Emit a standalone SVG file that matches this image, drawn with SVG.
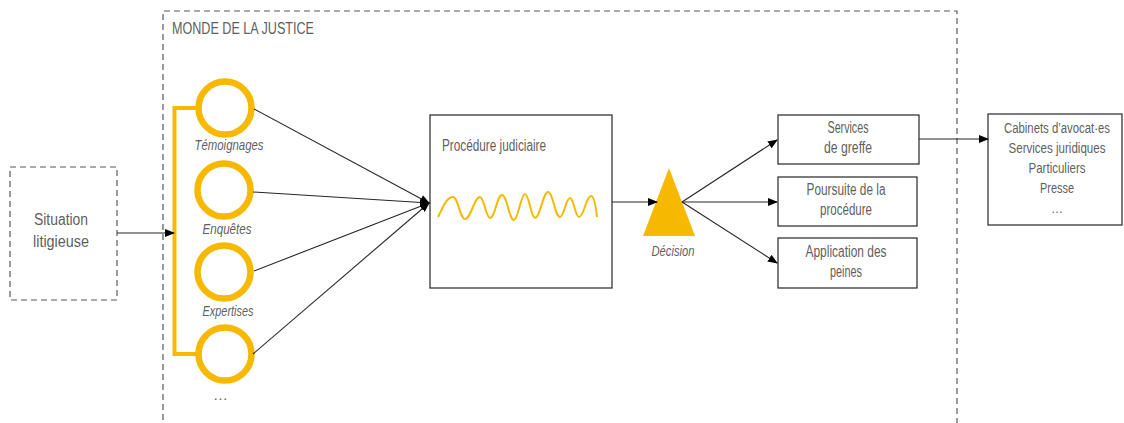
<svg xmlns="http://www.w3.org/2000/svg" width="1124" height="423" viewBox="0 0 1124 423">
<style>
text{font-family:"Liberation Sans",Arial,sans-serif;fill:#5f5f5f;font-size:16px}
.c{text-anchor:middle}
.i{font-style:italic;font-size:15px}
.box{fill:#fff;stroke:#262626;stroke-width:1.2}
.dash{fill:none;stroke:#595959;stroke-width:1.2;stroke-dasharray:6 4}
.ring{fill:#fff;stroke:#F7B900;stroke-width:6.5}
.conn{fill:none;stroke:#262626;stroke-width:1.1}
.r{font-size:15px}
</style>
<defs>
<marker id="ah" markerUnits="userSpaceOnUse" markerWidth="10" markerHeight="8" refX="9" refY="4" orient="auto">
<path d="M0,0 L10,4 L0,8 Z" fill="#000"/>
</marker>
</defs>
<g id="monde">
<path class="dash" d="M163,430 V11 H957 V430"/>
<text x="172" y="34" font-size="17" textLength="142" lengthAdjust="spacingAndGlyphs">MONDE DE LA JUSTICE</text>
</g>
<g id="situation">
<rect class="dash" x="10" y="167" width="107" height="133" fill="#fff"/>
<text class="c" x="61" y="225" font-size="17" textLength="54" lengthAdjust="spacingAndGlyphs">Situation</text>
<text class="c" x="61" y="247" font-size="17" textLength="56" lengthAdjust="spacingAndGlyphs">litigieuse</text>
</g>
<g id="bracket">
<path d="M197,108 H174.5 V354 H197" fill="none" stroke="#F7B900" stroke-width="4"/>
</g>
<g id="temoignages">
<circle class="ring" cx="225" cy="108" r="26.5"/>
<text class="c i" x="229" y="150" textLength="69" lengthAdjust="spacingAndGlyphs">Témoignages</text>
</g>
<g id="enquetes">
<circle class="ring" cx="224" cy="190" r="26.5"/>
<text class="c i" x="227" y="234" textLength="49" lengthAdjust="spacingAndGlyphs">Enquêtes</text>
</g>
<g id="expertises">
<circle class="ring" cx="224" cy="272" r="26.5"/>
<text class="c i" x="228" y="316" textLength="51" lengthAdjust="spacingAndGlyphs">Expertises</text>
</g>
<g id="autres">
<circle class="ring" cx="225" cy="354" r="26.5"/>
<text class="c i" x="221" y="400" font-size="12">…</text>
</g>
<g id="procedure">
<rect class="box" x="430" y="115" width="182" height="173"/>
<text x="442" y="151" textLength="104" lengthAdjust="spacingAndGlyphs">Procédure judiciaire</text>
<path d="M438,217 C444,205 447,197 453,197 C458,197 460,219 465,219 C471,219 474,197 480,197 C484,197 486,218 490,218 C495,218 497,195 502,195 C507,195 509,220 514,220 C518,220 521,194 525,194 C529,194 531,218 535,218 C540,218 543,192 548,192 C553,192 555,217 560,217 C564,217 566,198 570,198 C574,198 575,217 579,217 C584,217 586,196 591,196 C594,196 596,208 597,217" fill="none" stroke="#F7B900" stroke-width="2"/>
</g>
<g id="decision">
<path d="M669,168 L695,236 L643,236 Z" fill="#F7B900"/>
<text class="c i" x="673" y="256" textLength="43" lengthAdjust="spacingAndGlyphs">Décision</text>
</g>
<g id="greffe">
<rect class="box" x="778" y="115" width="141" height="49"/>
<text class="c" x="848" y="133" textLength="41" lengthAdjust="spacingAndGlyphs">Services</text>
<text class="c" x="848" y="153" textLength="48" lengthAdjust="spacingAndGlyphs">de greffe</text>
</g>
<g id="poursuite">
<rect class="box" x="778" y="177" width="139" height="49"/>
<text class="c" x="846" y="195" textLength="79" lengthAdjust="spacingAndGlyphs">Poursuite de la</text>
<text class="c" x="846" y="215" textLength="52" lengthAdjust="spacingAndGlyphs">procédure</text>
</g>
<g id="peines">
<rect class="box" x="778" y="238" width="139" height="50"/>
<text class="c" x="846" y="257" textLength="81" lengthAdjust="spacingAndGlyphs">Application des</text>
<text class="c" x="846" y="277" textLength="32" lengthAdjust="spacingAndGlyphs">peines</text>
</g>
<g id="publics">
<rect class="box" x="988" y="114" width="134" height="111"/>
<text class="c r" x="1057" y="133" font-size="14" style="font-size:14px" textLength="106" lengthAdjust="spacingAndGlyphs">Cabinets d’avocat·es</text>
<text class="c r" x="1057" y="153" style="font-size:14px" textLength="97" lengthAdjust="spacingAndGlyphs">Services juridiques</text>
<text class="c r" x="1057" y="173" textLength="57" lengthAdjust="spacingAndGlyphs">Particuliers</text>
<text class="c r" x="1057" y="193" textLength="34" lengthAdjust="spacingAndGlyphs">Presse</text>
<text class="c" x="1057" y="213" font-size="12" style="font-size:12px">…</text>
</g>
<g id="connectors">
<line class="conn" x1="117" y1="233" x2="174" y2="233" marker-end="url(#ah)"/>
<line class="conn" x1="254" y1="109" x2="429" y2="203" marker-end="url(#ah)"/>
<line class="conn" x1="253" y1="192" x2="429" y2="203" marker-end="url(#ah)"/>
<line class="conn" x1="254" y1="271" x2="429" y2="203" marker-end="url(#ah)"/>
<line class="conn" x1="253" y1="354" x2="429" y2="203" marker-end="url(#ah)"/>
<line class="conn" x1="612" y1="202" x2="657" y2="202" marker-end="url(#ah)"/>
<line class="conn" x1="682" y1="202" x2="777" y2="140" marker-end="url(#ah)"/>
<line class="conn" x1="682" y1="202" x2="777" y2="202" marker-end="url(#ah)"/>
<line class="conn" x1="682" y1="202" x2="777" y2="263" marker-end="url(#ah)"/>
<line class="conn" x1="919" y1="139" x2="988" y2="139" marker-end="url(#ah)"/>
</g>
</svg>
